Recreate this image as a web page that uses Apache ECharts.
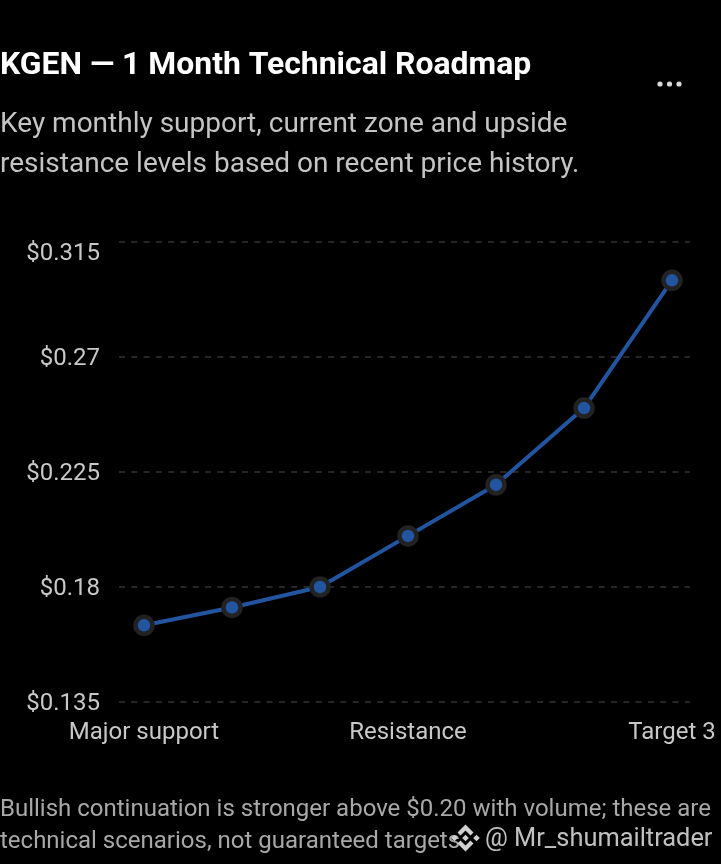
<!DOCTYPE html>
<html><head><meta charset="utf-8">
<style>html,body{margin:0;padding:0;background:#000}#c{width:721px;height:864px}</style>
<script src="https://cdn.jsdelivr.net/npm/echarts@6/dist/echarts.min.js"></script>
</head><body><div id="c"></div>
<script>
const categories=['Major support','Support','Pivot','Resistance','Target 1','Target 2','Target 3'];
const prices=[0.165,0.172,0.18,0.2,0.22,0.25,0.30];
const titleText='KGEN — 1 Month Technical Roadmap';
const subtitleLines=['Key monthly support, current zone and upside','resistance levels based on recent price history.'];
const footLines=['Bullish continuation is stronger above $0.20 with volume; these are','technical scenarios, not guaranteed targets.'];
const handle='@ Mr_shumailtrader';
const F='Roboto';
function txt(x,y,t,size,color,weight){return {type:'text',left:x,top:y,z:10,style:{text:t,fontFamily:F,fontSize:size,fill:color,fontWeight:weight||400}};}
function poly(cx,cy,pts,fill){return {type:'polygon',z:11,shape:{points:pts.map(p=>[cx+p[0],cy+p[1]])},style:{fill:fill}};}
function dia(cx,cy,r,fill){return poly(cx,cy,[[0,-r],[r,0],[0,r],[-r,0]],fill);}
const iconTop=[[0,-13.5],[8,-5.5],[5,-2.5],[0,-7.5],[-5,-2.5],[-8,-5.5]];
const iconBottom=iconTop.map(p=>[p[0],-p[1]]);
const labelStyle={color:'#c8c8c8',fontFamily:F,fontSize:24};
const chart=echarts.init(document.getElementById('c'),null,{renderer:'canvas'});
chart.setOption({
 animation:false,backgroundColor:'#000',
 grid:[{left:119,width:571,top:242,height:460},{left:100,width:616,top:242,height:460}],
 xAxis:[
  {gridIndex:0,type:'category',data:categories,show:false},
  {gridIndex:1,type:'category',data:categories,axisLine:{show:false},axisTick:{show:false},splitLine:{show:false},
   axisLabel:{interval:2,color:'#c8c8c8',fontFamily:F,fontSize:24,margin:19,hideOverlap:false}}
 ],
 yAxis:[
  {gridIndex:0,type:'value',min:0.135,max:0.315,interval:0.045,axisLine:{show:false},axisTick:{show:false},
   splitLine:{show:true,lineStyle:{color:'#262626',width:2,type:[6,6.3]}},
   axisLabel:{color:'#c8c8c8',fontFamily:F,fontSize:24,margin:19,verticalAlignMaxLabel:'top',
    rich:{m:{...labelStyle,padding:[4,0,0,0]},t:{...labelStyle}},
    formatter:v=>{const s='$'+(+v.toFixed(3));return v>0.31?'{t|'+s+'}':'{m|'+s+'}';}}},
  {gridIndex:1,type:'value',min:0.135,max:0.315,interval:0.045,show:false}
 ],
 series:[{type:'line',xAxisIndex:1,yAxisIndex:1,data:prices,smooth:false,symbol:'circle',symbolSize:17,
  lineStyle:{color:'#2255a0',width:4},
  itemStyle:{color:'#2255a0',borderColor:'#222222',borderWidth:4.5}}],
 graphic:[
  txt(0,50.5,titleText,31.9,'#ffffff',700),
  txt(0,110.5,subtitleLines[0],28,'#c4c4c4'),
  txt(0,150.5,subtitleLines[1],28,'#c4c4c4'),
  txt(0,797.5,footLines[0],24,'#a8a8a8'),
  txt(0,829.5,footLines[1],24,'#a8a8a8'),
  txt(485,827,handle,25.4,'#c0c0c0'),
  {type:'circle',z:10,shape:{cx:660,cy:84,r:2.6},style:{fill:'#d8d8d8'}},
  {type:'circle',z:10,shape:{cx:669.5,cy:84,r:2.6},style:{fill:'#d8d8d8'}},
  {type:'circle',z:10,shape:{cx:679,cy:84,r:2.6},style:{fill:'#d8d8d8'}},
  poly(465.5,838,iconTop,'#d0d0d0'),poly(465.5,838,iconBottom,'#d0d0d0'),
  dia(465.5,838,3.3,'#d0d0d0'),dia(454.5,838,3.3,'#d0d0d0'),dia(476.5,838,3.3,'#d0d0d0')
 ]
});
</script></body></html>
